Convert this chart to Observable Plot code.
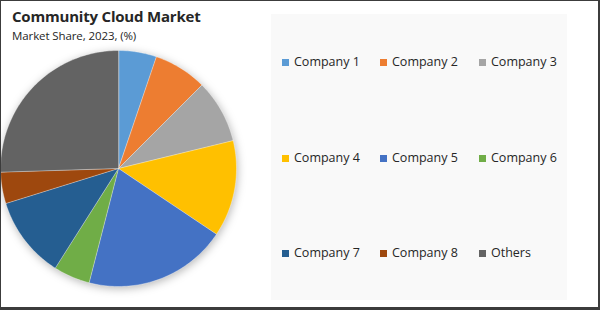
<!DOCTYPE html>
<html>
<head>
<meta charset="utf-8">
<script src="https://cdn.jsdelivr.net/npm/d3@7"></script>
<script src="https://cdn.jsdelivr.net/npm/@observablehq/plot@0.6"></script>
<style>
  html, body { margin: 0; padding: 0; background: #fff; }
  #frame {
    position: relative; width: 600px; height: 310px; box-sizing: border-box;
    border-style: solid; border-color: #3c3c3c; border-width: 1px 2px 3px 1px;
    overflow: hidden; font-family: "Open Sans", sans-serif; background: #fff;
  }
  #title { position: absolute; left: 11px; top: 5px; font-size: 15px; font-weight: bold; color: #262626; letter-spacing: -0.2px; }
  #subtitle { position: absolute; left: 11px; top: 27px; font-size: 11.5px; color: #262626; letter-spacing: -0.1px; }
  #panel { position: absolute; left: 270px; top: 13px; width: 296px; height: 286px; background: #f9f9f9; }
  #pie { position: absolute; left: -1px; top: 49px; filter: drop-shadow(1px 2px 4px rgba(0,0,0,0.28)); }
  #pie svg { overflow: visible; }
  .item { position: absolute; font-size: 12.5px; color: #262626; white-space: nowrap; line-height: 16px; height: 16px; }
  .sw { display: inline-block; width: 7px; height: 7px; margin-right: 5px; vertical-align: 0px; }
</style>
</head>
<body>
<div id="frame">
  <div id="title">Community Cloud Market</div>
  <div id="subtitle">Market Share, 2023, (%)</div>
  <div id="panel"></div>
  <div id="pie"></div>
  <div id="legend"></div>
</div>
<script>
const companies = ["Company 1","Company 2","Company 3","Company 4","Company 5","Company 6","Company 7","Company 8","Others"];
const shares = [5.2, 7.3, 8.7, 13.2, 19.6, 5.0, 11.2, 4.3, 25.5];
const colors = ["#5B9BD5","#ED7D31","#A5A5A5","#FFC000","#4472C4","#70AD47","#255E91","#9E480E","#636363"];

// Build slice outlines from pie angles
const arcs = d3.pie().sort(null)(shares);
const points = [];
arcs.forEach((a, i) => {
  const name = companies[i];
  points.push({name, x: 0, y: 0});
  const n = Math.max(4, Math.ceil((a.endAngle - a.startAngle) / 0.02));
  for (let k = 0; k <= n; k++) {
    const t = a.startAngle + (a.endAngle - a.startAngle) * k / n;
    points.push({name, x: Math.sin(t), y: Math.cos(t)});
  }
});

const size = 236;
const chart = Plot.plot({
  width: size, height: size,
  margin: 0,
  x: {domain: [-1, 1], axis: null},
  y: {domain: [-1, 1], axis: null},
  color: {domain: companies, range: colors},
  marks: [
    Plot.line(points, {x: "x", y: "y", z: "name", fill: "name", stroke: "#ffffff", strokeWidth: 0.6, strokeOpacity: 0.6, curve: "linear-closed"})
  ]
});
document.getElementById("pie").appendChild(chart);

// Legend (3 x 3 grid)
const colScale = chart.scale("color");
const colX = [281, 379, 478];
const rowY = [53, 149, 244];
const legend = document.getElementById("legend");
companies.forEach((c, i) => {
  const d = document.createElement("div");
  d.className = "item";
  d.style.left = colX[i % 3] + "px";
  d.style.top = rowY[Math.floor(i / 3)] + "px";
  const sw = document.createElement("span");
  sw.className = "sw";
  sw.style.background = colScale.apply(c);
  d.appendChild(sw);
  d.appendChild(document.createTextNode(c));
  legend.appendChild(d);
});
</script>
</body>
</html>
